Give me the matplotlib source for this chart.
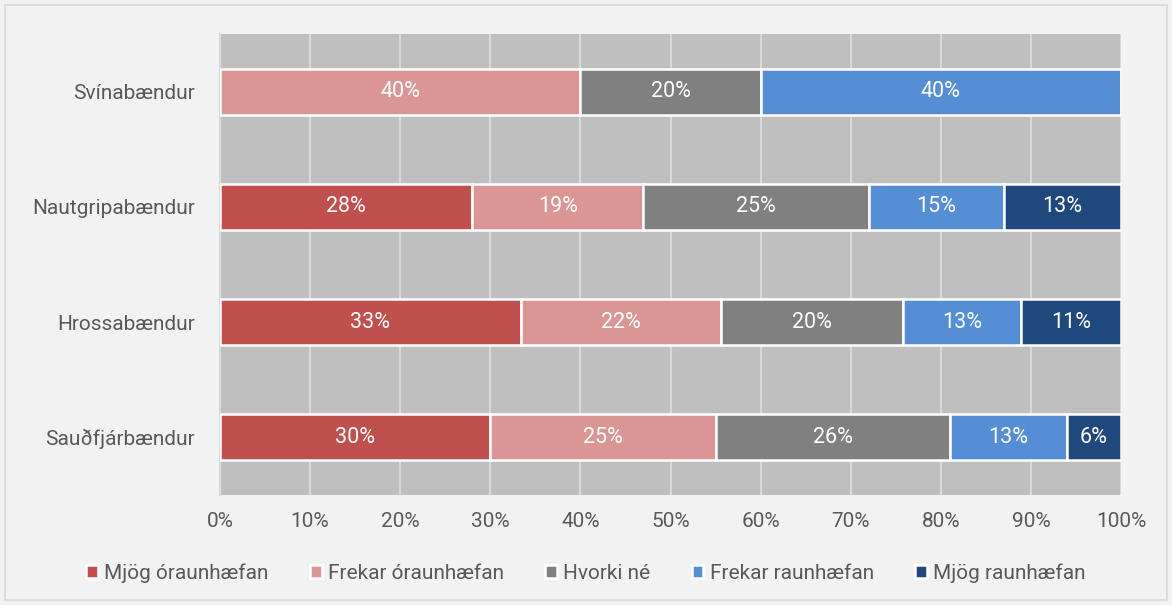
import numpy as np
import matplotlib.pyplot as plt
from matplotlib.patches import Rectangle

plt.rcParams['font.family'] = ['Roboto', 'DejaVu Sans']

categories = ['Sauðfjárbændur', 'Hrossabændur', 'Nautgripabændur', 'Svínabændur']
series = ['Mjög óraunhæfan', 'Frekar óraunhæfan', 'Hvorki né', 'Frekar raunhæfan', 'Mjög raunhæfan']
colors = ['#c0504d', '#d99694', '#808080', '#558ed5', '#1f497d']

mjog_oraun = [30.0, 33.4, 28.0, 0.0]
frekar_oraun = [25.0, 22.2, 19.0, 40.0]
hvorki = [26.0, 20.2, 25.0, 20.0]
frekar_raun = [13.0, 13.1, 15.0, 40.0]
mjog_raun = [6.0, 11.1, 13.0, 0.0]
values = [mjog_oraun, frekar_oraun, hvorki, frekar_raun, mjog_raun]

fig = plt.figure(figsize=(11.72, 6.05), dpi=100, facecolor='#f2f2f2')
fig.patches.append(Rectangle((5 / 1172, 5 / 605), 1162 / 1172, 595 / 605,
                             transform=fig.transFigure, fill=False,
                             edgecolor='#d9d9d9', linewidth=1.2))
ax = fig.add_axes([220 / 1172, 1 - 495 / 605, 901 / 1172, 461 / 605])
ax.set_facecolor('#bfbfbf')

y = np.arange(len(categories))
left = np.zeros(len(categories))
for name, vals, c in zip(series, values, colors):
    vals = np.array(vals)
    bars = ax.barh(y, vals, left=left, height=0.4, color=c, edgecolor='white',
                   linewidth=1.8, label=name, zorder=3)
    for b, v in zip(bars, vals):
        if v > 0:
            ax.text(b.get_x() + b.get_width() / 2, b.get_y() + b.get_height() / 2,
                    f'{round(v):.0f}%', ha='center', va='center',
                    color='white', fontsize=15.5, zorder=4)
    left += vals

ax.set_xlim(0, 100)
ax.set_ylim(-0.5, 3.5)
ax.set_yticks(y)
ax.set_yticklabels(categories)
ax.set_xticks(np.arange(0, 101, 10))
ax.set_xticklabels([f'{t}%' for t in range(0, 101, 10)])
ax.tick_params(axis='both', length=0, labelsize=15, colors='#595959')
ax.tick_params(axis='x', pad=12)
ax.tick_params(axis='y', pad=18)
ax.grid(axis='x', color='#d9d9d9', linewidth=1.5, zorder=1)
ax.set_axisbelow(True)
for s in ['top', 'right', 'bottom']:
    ax.spines[s].set_visible(False)
ax.spines['left'].set_color('#d9d9d9')
ax.spines['left'].set_linewidth(1.5)

handles, labels = ax.get_legend_handles_labels()
leg = fig.legend(handles, labels, loc='center', bbox_to_anchor=(0.5, 1 - 573 / 605),
                 ncol=5, frameon=False, fontsize=15, handlelength=0.55, handleheight=0.55,
                 handletextpad=0.3, columnspacing=2.0, labelcolor='#595959')

fig.savefig('out.png', dpi=100, facecolor=fig.get_facecolor())
